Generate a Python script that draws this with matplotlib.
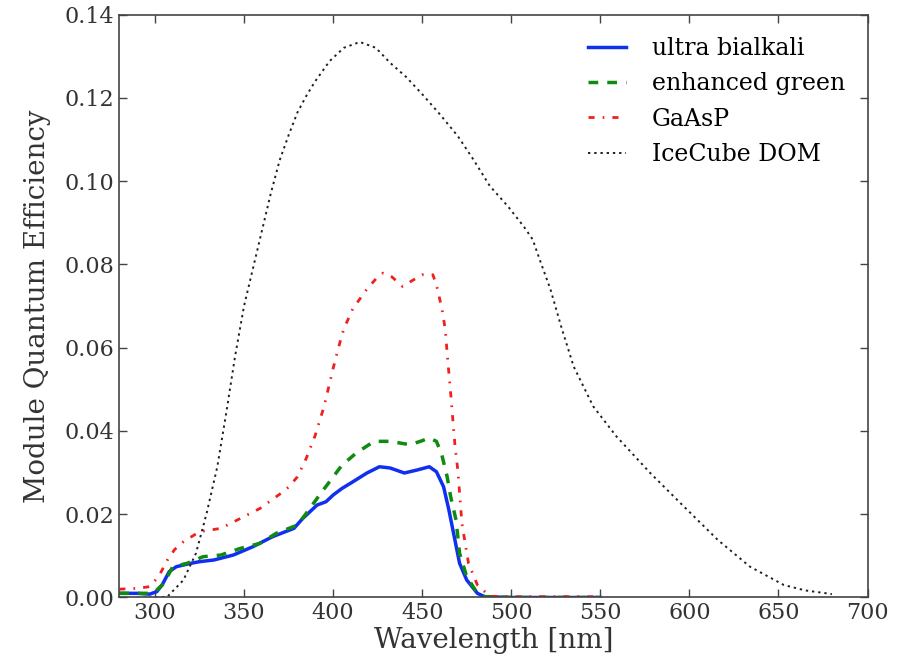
import matplotlib
matplotlib.use("Agg")
import matplotlib.pyplot as plt

plt.rcParams['font.family'] = ['DejaVu Serif']

# ultra bialkali
ub_wl = [280, 290, 297, 301, 304, 308, 312, 316, 320, 325, 333, 344, 355, 366, 378, 383,
         391, 396, 400, 405, 410, 419, 426, 432, 440, 447, 454, 458, 462, 465, 468, 471,
         475, 481, 485, 500, 520, 550]
ub_qe = [0.0010, 0.0010, 0.0008, 0.0014, 0.0030, 0.0062, 0.0074, 0.0078, 0.0082, 0.0086,
         0.0090, 0.0102, 0.0122, 0.0146, 0.0166, 0.0190, 0.0222, 0.0230, 0.0246, 0.0262,
         0.0275, 0.0299, 0.0314, 0.0311, 0.0299, 0.0306, 0.0314, 0.0302, 0.0266, 0.0210,
         0.0146, 0.0082, 0.0042, 0.0010, 0.0002, 0.0, 0.0, 0.0]

# enhanced green
eg_wl = [280, 290, 297, 301, 305, 310, 318, 327, 337, 348, 359, 368, 380, 387, 393, 398,
         405, 413, 423, 432, 443, 449, 454, 458, 461, 464, 466, 469, 471, 475, 481, 485,
         500, 520, 550]
eg_qe = [0.0010, 0.0010, 0.0010, 0.0018, 0.0034, 0.0074, 0.0082, 0.0098, 0.0102, 0.0118,
         0.0130, 0.0154, 0.0174, 0.0214, 0.0250, 0.0278, 0.0318, 0.0347, 0.0375, 0.0375,
         0.0367, 0.0375, 0.0383, 0.0375, 0.0343, 0.0290, 0.0242, 0.0186, 0.0106, 0.0050,
         0.0010, 0.0002, 0.0, 0.0, 0.0]

# GaAsP
ga_wl = [280, 290, 297, 302, 307, 311, 316, 325, 337, 348, 359, 370, 375, 380, 385, 390,
         395, 400, 403, 406, 411, 419, 424, 428, 433, 439, 444, 450, 456, 458, 461, 463,
         464, 466, 468.5, 470, 472.3, 476, 481, 488, 500, 520, 550]
ga_qe = [0.0020, 0.0022, 0.0026, 0.0050, 0.0090, 0.0115, 0.0134, 0.0158, 0.0166, 0.0190,
         0.0214, 0.0248, 0.0265, 0.0290, 0.0335, 0.0390, 0.0460, 0.0550, 0.0600, 0.0645,
         0.0693, 0.0741, 0.0765, 0.0779, 0.0770, 0.0747, 0.0760, 0.0775, 0.0775, 0.0751,
         0.0695, 0.0643, 0.0587, 0.0490, 0.0360, 0.0306, 0.0178, 0.0082, 0.0030, 0.0003,
         0.0002, 0.0002, 0.0002]

# IceCube DOM
ic_wl = [290, 300, 307, 316, 323, 329, 335, 340, 345, 350, 355, 360, 365, 370, 375, 380,
         385, 390, 398, 406, 415, 424, 432, 441, 451, 460, 470, 479, 488, 498, 507, 512,
         516, 522, 528, 535, 546, 559, 578, 597, 616, 634, 653, 665, 677, 680]
ic_qe = [0.0, 0.0, 0.0002, 0.0042, 0.0106, 0.0202, 0.0314, 0.0443, 0.0580, 0.0700, 0.0790,
         0.0880, 0.0970, 0.1050, 0.1110, 0.1165, 0.1205, 0.1240, 0.1288, 0.1320, 0.1334,
         0.1320, 0.1284, 0.1250, 0.1204, 0.1160, 0.1108, 0.1050, 0.0988, 0.0940, 0.0891,
         0.0860, 0.0811, 0.0740, 0.0651, 0.0555, 0.0459, 0.0387, 0.0299, 0.0218, 0.0138,
         0.0074, 0.0030, 0.0017, 0.0010, 0.0008]

x_ticks = [300, 350, 400, 450, 500, 550, 600, 650, 700]
y_ticks = [0.00, 0.02, 0.04, 0.06, 0.08, 0.10, 0.12, 0.14]

fig = plt.figure(figsize=(9.04, 6.60), dpi=100)
ax = fig.add_axes([0.132, 0.0947, 0.8277, 0.8833])

ax.plot(ub_wl, ub_qe, '-', color='#1030f0', lw=2.5, label='ultra bialkali')
ax.plot(eg_wl, eg_qe, color='#108a10', lw=2.5, ls=(0, (2.8, 2.6)), label='enhanced green')
ax.plot(ga_wl, ga_qe, color='#f02020', lw=2.0, ls=(0, (2.2, 2.9, 0.6, 2.9)), label='GaAsP')
ax.plot(ic_wl, ic_qe, color='#202020', lw=1.4, ls=(0, (1.2, 2.0)), label='IceCube DOM')

ax.set_xlim(280, 700)
ax.set_ylim(0, 0.14)
ax.set_xticks(x_ticks)
ax.set_yticks(y_ticks)
ax.set_yticklabels(['%.2f' % v for v in y_ticks])
ax.tick_params(direction='in', top=True, right=True, length=6, width=1,
               labelsize=16, colors='#444444', labelcolor='#333333')
for s in ax.spines.values():
    s.set_color('#444444')
    s.set_linewidth(1.2)

ax.set_xlabel('Wavelength [nm]', fontsize=20, color='#333333', labelpad=2)
ax.set_ylabel('Module Quantum Efficiency', fontsize=20, color='#333333', labelpad=10)

ax.legend(loc='upper right', frameon=False, fontsize=17, handlelength=1.6,
          labelspacing=0.52, borderaxespad=0.55, handletextpad=1.1)

fig.savefig('out.png', dpi=100)
